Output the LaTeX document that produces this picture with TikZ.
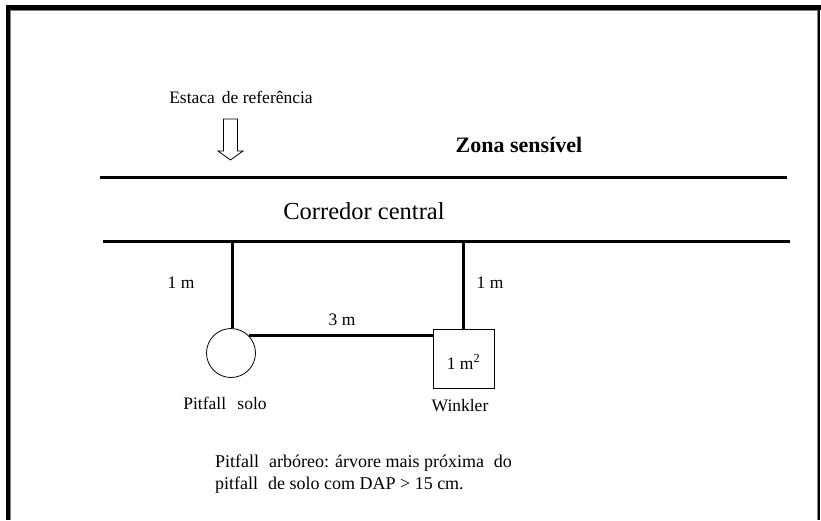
\documentclass[tikz,border=0pt]{standalone}
\usepackage{fontspec}
\setmainfont{Liberation Serif}
\begin{document}
\begin{tikzpicture}[x=1pt,y=-1pt,
  thick line/.style={line width=3pt},
  lbl/.style={inner sep=0pt,font=\fontsize{17.5}{20}\selectfont},
  btext/.style={inner sep=0pt,align=left,font=\fontsize{18}{22}\selectfont},
  pitshape/.style={draw,circle,line width=0.8pt,minimum size=49pt,inner sep=0pt},
  winkshape/.style={draw,rectangle,line width=0.8pt,minimum width=61pt,minimum height=59pt,inner sep=0pt}]
\useasboundingbox (0,0) rectangle (821,520);
% frame
\draw[line width=5pt] (8,520) -- (8,7.5) -- (821,7.5);
\draw[line width=2.4pt] (818.8,7.5) -- (818.8,520);
\draw[gray,line width=0.8pt] (10.6,520) -- (10.6,10.6) -- (817.2,10.6) -- (817.2,520);
% corridor lines
\coordinate (u1) at (100,177.7);
\coordinate (u2) at (787,177.7);
\coordinate (l1) at (103,241.7);
\coordinate (l2) at (790,241.7);
\draw[thick line] (u1) -- (u2);
\draw[thick line] (l1) -- (l2);
% texts
\node[lbl] (estaca) at (241,97) {Estaca\hspace{0.15em} de referência};
\node[inner sep=0pt,font=\fontsize{22}{24}\selectfont\bfseries] (zona) at (519,145) {Zona sensível};
\node[inner sep=0pt,font=\fontsize{24.5}{26}\selectfont] (corr) at (364,211) {Corredor central};
% arrow
\draw[line width=0.8pt] (223.5,119) -- (237.5,119) -- (237.5,151) -- (243,151) -- (230.5,160) -- (218,151) -- (223.5,151) -- cycle;
% pitfall and winkler
\node[pitshape] (pit) at (231,353) {};
\node[winkshape] (wink) at (463.5,358.5) {};
\node[lbl] (m2) at (463.5,362) {1 m\textsuperscript{2}};
\coordinate (c1) at (232,241.7);
\coordinate (c2) at (463,241.7);
\draw[thick line] (c1) -- (c1 |- pit.north);
\draw[thick line] (c2) -- (c2 |- wink.north);
\draw[thick line] (pit.45) -- (pit.45 -| wink.west);
% labels
\node[lbl] (m1a) at (181,283) {1 m};
\node[lbl] (m1b) at (490,283) {1 m};
\node[lbl] (m3) at (342,320) {3 m};
\node[lbl] (pitlbl) at (225,403) {Pitfall\hspace{0.4em} solo};
\node[lbl] (winklbl) at (460,406) {Winkler};
\node[btext,anchor=west] (note) at (215,474) {Pitfall\hspace{0.3em} arbóreo: árvore mais próxima\hspace{0.3em} do\\pitfall\hspace{0.3em} de solo com DAP > 15 cm.};
\end{tikzpicture}
\end{document}
